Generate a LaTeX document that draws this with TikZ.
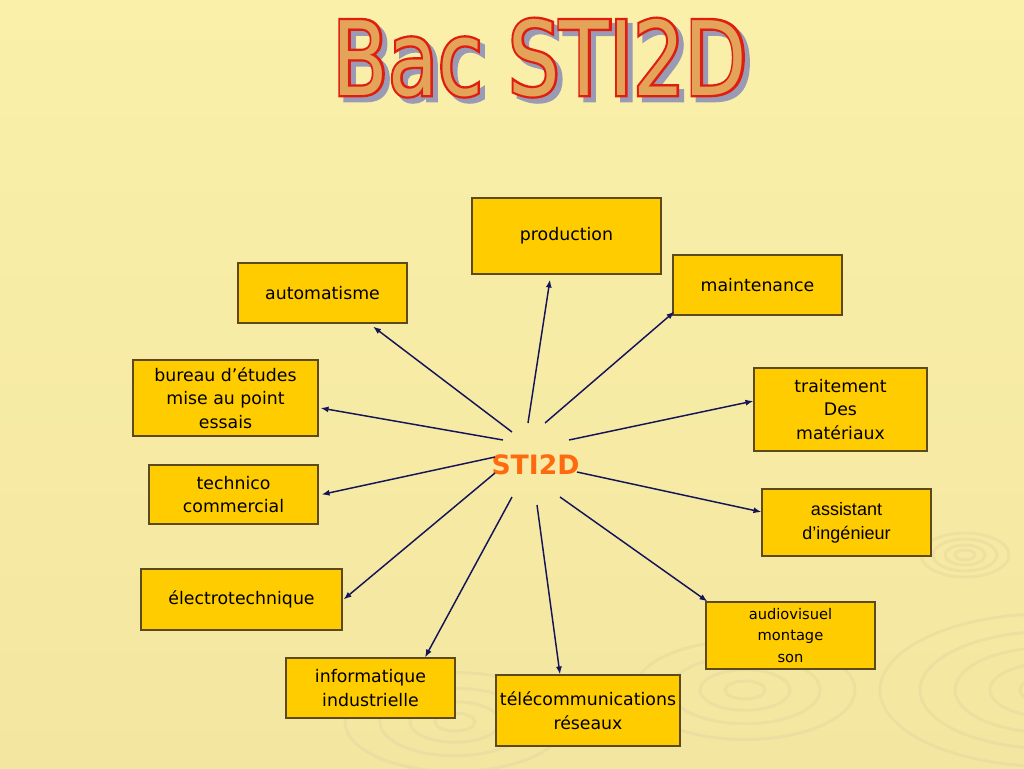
\documentclass[tikz,border=0pt]{standalone}
\usepackage{fontspec}
\setmainfont{DejaVu Sans}
\newfontfamily\arialf{Liberation Sans}
\newfontfamily\titlefont[FakeStretch=0.79]{DejaVu Sans}
\newfontfamily\titleboldfont[FakeStretch=0.79,FakeBold=4.5]{DejaVu Sans}
\usetikzlibrary{arrows.meta,calc}
\definecolor{bgtop}{HTML}{FAF0AA}
\definecolor{bgbot}{HTML}{F3E6A0}
\definecolor{boxfill}{HTML}{FFCC00}
\definecolor{boxline}{HTML}{5C4A1E}
\definecolor{arrowc}{HTML}{14145A}
\definecolor{stio}{HTML}{FF6A10}
\definecolor{titfill}{HTML}{E3A45A}
\definecolor{titline}{HTML}{E01E10}
\definecolor{titshadow}{HTML}{9A9AB4}
\definecolor{ripple}{HTML}{E6D8A0}
\newcommand\bactitle{\titlefont\fontsize{77}{80}\selectfont Bac STI2D}
\newcommand\bactitleb{\titleboldfont\fontsize{77}{80}\selectfont Bac STI2D}
\begin{document}
\begin{tikzpicture}[x=0.75pt,y=-0.75pt,
  box/.style={draw=boxline, line width=0.8pt, fill=boxfill, align=center,
    font=\fontsize{13}{17.6}\selectfont, inner sep=0pt},
  dim/.style 2 args={minimum width=#1*0.75pt, minimum height=#2*0.75pt},
  arr/.style={draw=arrowc, line width=1.1pt, -{Latex[length=6pt,width=4.5pt]}},
  ring/.style={draw=ripple, line width=2.2pt, opacity=0.5}]
\useasboundingbox (0,0) rectangle (1024,768);
\fill[top color=bgtop,bottom color=bgbot] (0,0) rectangle (1024,768);
% background ripples
\foreach \r in {10,20,32,44}
  \draw[ring] (965,555) ellipse ({\r} and {0.5*\r});
\foreach \r in {30,60,95,130,170}
  \draw[ring] (1050,690) ellipse ({\r} and {0.45*\r});
\foreach \r in {20,45,75,110}
  \draw[ring] (745,690) ellipse ({\r} and {0.45*\r});
\foreach \r in {20,45,75,110}
  \draw[ring] (455,722) ellipse ({\r} and {0.45*\r});
% title
\coordinate (tc) at (540,95);
\node[text=titshadow, anchor=base] (tshadow) at ($(tc)+(5,5)$) {\bactitleb};
\node[text=titline, anchor=base] (tline) at (tc) {\bactitleb};
\node[text=titfill, anchor=base] (title) at (tc) {\bactitle};
% centre
\node[text=stio, font=\fontsize{20}{24}\selectfont\bfseries] (sti) at (535.5,465) {STI2D};
% boxes
\node[box, dim={189}{76}] (prod) at (566.5,236) {production};
\node[box, dim={169}{60}] (auto) at (322.5,293) {automatisme};
\node[box, dim={169}{60}] (maint) at (757.5,285) {maintenance};
\node[box, dim={185}{76}] (bur) at (225.5,398) {bureau d’études\\mise au point\\essais};
\node[box, dim={173}{83}] (trait) at (840.5,409.5) {traitement\\Des\\matériaux};
\node[box, dim={169}{59}] (tech) at (233.5,494.5) {technico\\commercial};
\node[box, dim={169}{67}, font=\arialf\fontsize{13.5}{18}\selectfont] (assist) at (846.5,522.5) {assistant\\d’ingénieur};
\node[box, dim={201}{61}] (elec) at (241.5,599.5) {électrotechnique};
\node[box, dim={169}{67}, font=\fontsize{11}{16}\selectfont] (audio) at (790.5,635.5) {audiovisuel\\montage\\son};
\node[box, dim={169}{60}] (info) at (370.5,688) {informatique\\industrielle};
\node[box, dim={184}{71}] (tele) at (588,710.5) {télécommunications\\réseaux};
% connectors
\draw[arr] ($(sti)+(-7.5,-42)$) -- ($(prod.south)+(-16.5,5)$);
\draw[arr] ($(sti)+(9.5,-42)$) -- ($(maint.south west)+(2,-4)$);
\draw[arr] ($(sti)+(-23.5,-33)$) -- ($(auto.south)+(50.5,3)$);
\draw[arr] ($(sti)+(-32.5,-25)$) -- ($(bur.east)+(2,10)$);
\draw[arr] ($(sti)+(33.5,-25)$) -- ($(trait.west)+(0,-8.5)$);
\draw[arr] ($(sti)+(-40.5,-8)$) -- ($(tech.east)+(3,0)$);
\draw[arr] ($(sti)+(41.5,7)$) -- ($(assist.west)+(0,-10.5)$);
\draw[arr] ($(sti)+(-40.5,8)$) -- ($(elec.east)+(1,0)$);
\draw[arr] ($(sti)+(24.5,32)$) -- ($(audio.north west)+(2,0)$);
\draw[arr] ($(sti)+(-23.5,32)$) -- ($(info.north)+(54.5,0)$);
\draw[arr] ($(sti)+(1.5,40)$) -- ($(tele.north)+(-28,0)$);
\end{tikzpicture}
\end{document}
